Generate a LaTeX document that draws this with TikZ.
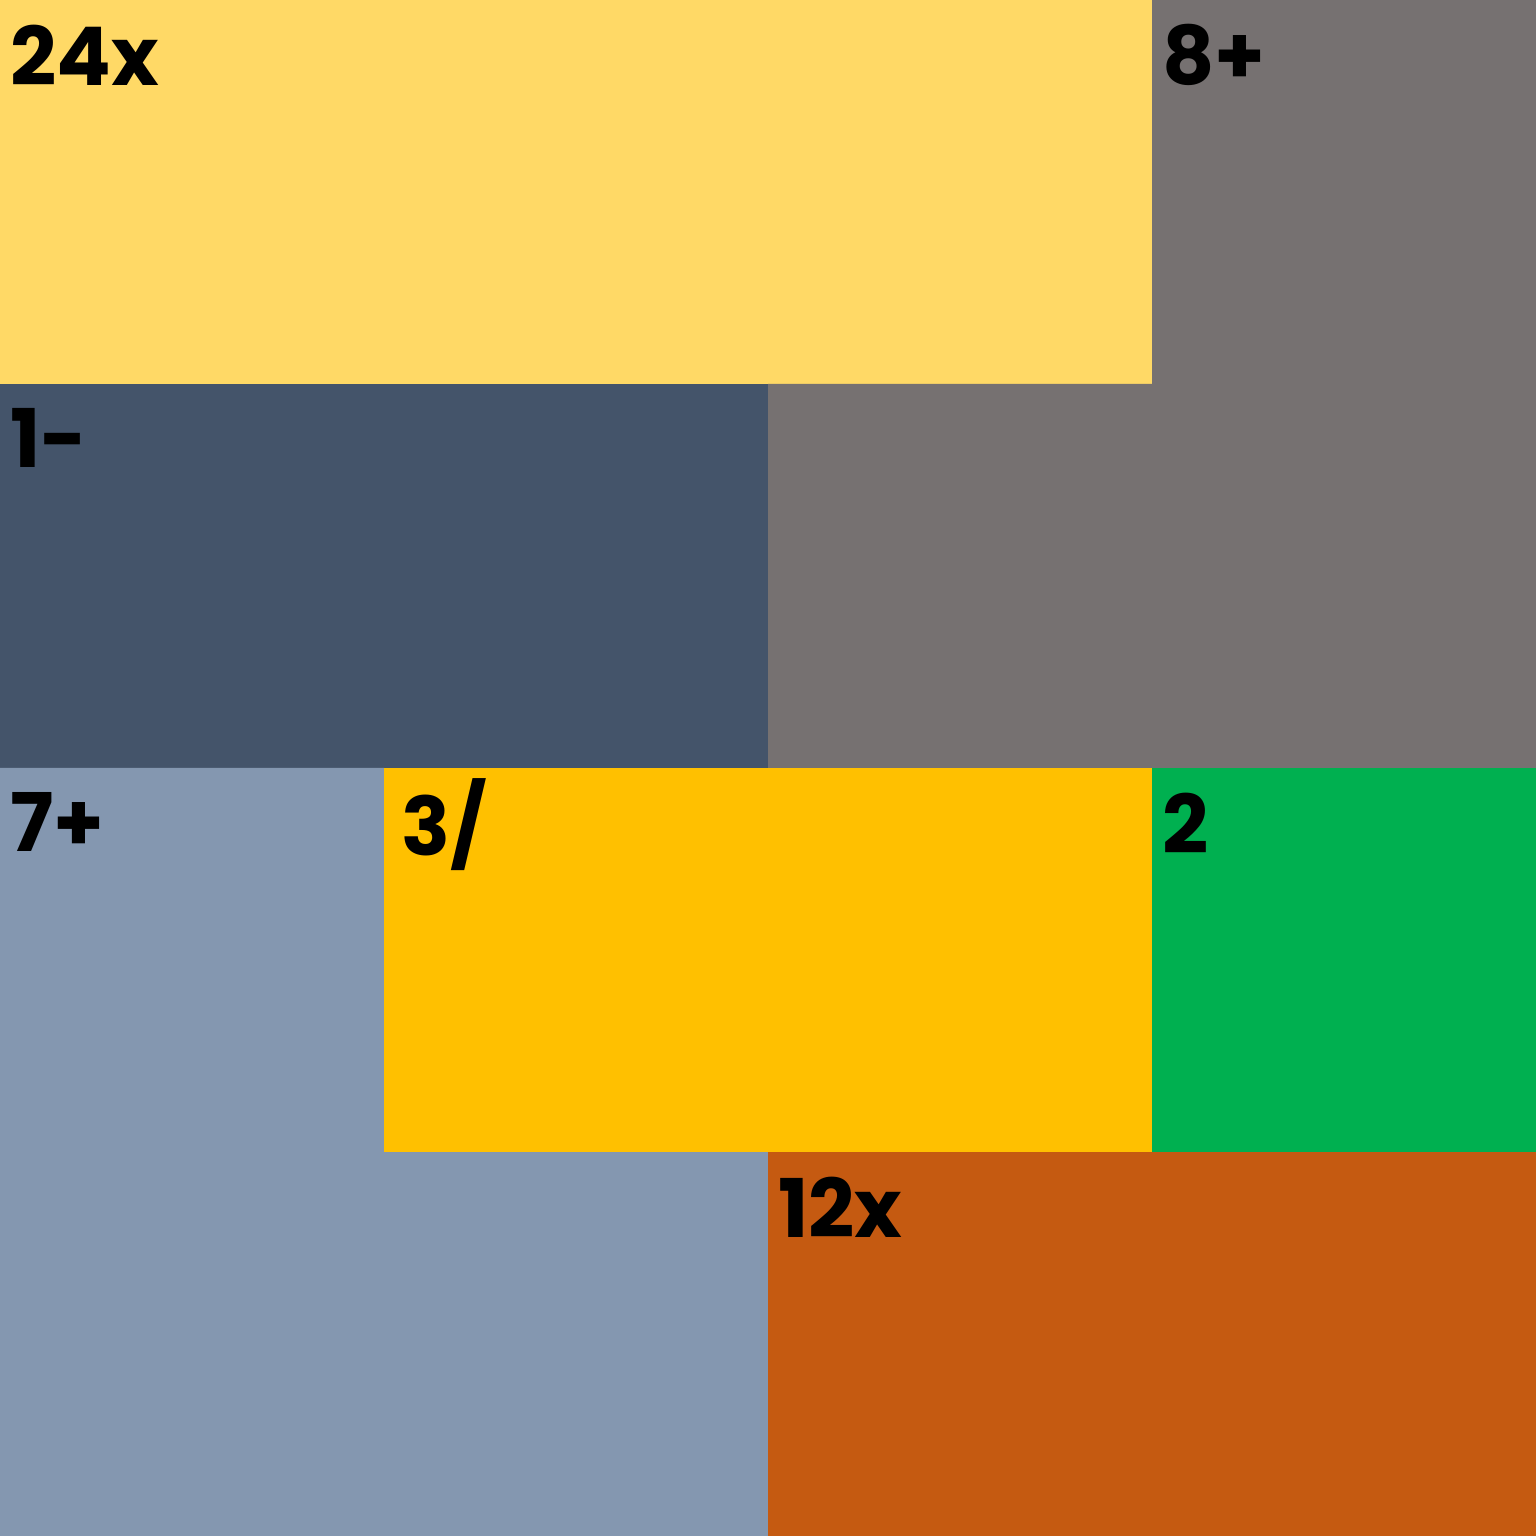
\documentclass[tikz,border=0pt]{standalone}
\usepackage{fontspec}
\setmainfont{Poppins}
\definecolor{cY}{HTML}{FFD966}
\definecolor{cG}{HTML}{767171}
\definecolor{cD}{HTML}{44546A}
\definecolor{cL}{HTML}{8497B0}
\definecolor{cO}{HTML}{FFC000}
\definecolor{cGr}{HTML}{00B050}
\definecolor{cB}{HTML}{C55A11}
\tikzset{lab/.style={anchor=north west,inner sep=0pt,font=\fontsize{24}{28}\selectfont\bfseries,text=black}}
\begin{document}
\begin{tikzpicture}
\useasboundingbox (0,0) rectangle (16,16);
% cages
\fill[cY] (0,16) rectangle (12,12);
\fill[cG] (12,16) -- (16,16) -- (16,8) -- (8,8) -- (8,12) -- (12,12) -- cycle;
\fill[cD] (0,12) rectangle (8,8);
\fill[cL] (0,8) -- (4,8) -- (4,4) -- (8,4) -- (8,0) -- (0,0) -- cycle;
\fill[cO] (4,8) rectangle (12,4);
\fill[cGr] (12,8) rectangle (16,4);
\fill[cB] (8,4) rectangle (16,0);
% labels
\node[lab] (t1) at (0.1,15.75) {24x};
\node[lab] (t2) at (12.1,15.75) {8+};
\node[lab] (t3) at (0.1,11.75) {1-};
\node[lab] (t4) at (0.1,7.75) {7+};
\node[lab] (t5) at (4.18,7.9) {3/};
\node[lab] (t6) at (12.1,7.75) {2};
\node[lab] (t7) at (8.1,3.75) {12x};
\end{tikzpicture}
\end{document}
